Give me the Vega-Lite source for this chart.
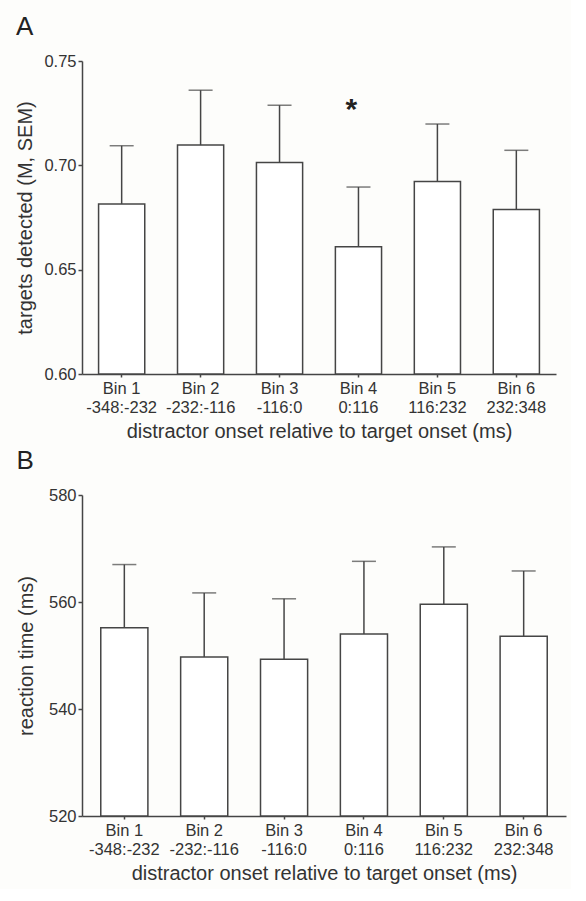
{
  "$schema": "https://vega.github.io/schema/vega-lite/v6.json",
  "background": "#fdfdfb",
  "padding": {"left": 15, "top": 14, "right": 5, "bottom": 5},
  "spacing": 6,
  "config": {
    "font": "Liberation Sans",
    "view": {"stroke": null},
    "axis": {
      "labelFont": "Liberation Sans",
      "titleFont": "Liberation Sans",
      "labelFontSize": 16.5,
      "titleFontSize": 20,
      "titleFontWeight": "normal",
      "labelColor": "#333333",
      "titleColor": "#333333",
      "domainColor": "#454545",
      "domainWidth": 1.5,
      "tickColor": "#454545",
      "tickWidth": 1.5,
      "grid": false
    },
    "title": {"font": "Liberation Sans", "fontSize": 26, "fontWeight": "normal", "color": "#222222", "anchor": "start", "frame": "bounds"}
  },
  "datasets": {
    "acc": [
      {"bin": "Bin 1|-348:-232", "mean": 0.6815, "upper": 0.7094, "sig": ""},
      {"bin": "Bin 2|-232:-116", "mean": 0.7097, "upper": 0.7360, "sig": ""},
      {"bin": "Bin 3|-116:0", "mean": 0.7014, "upper": 0.7288, "sig": ""},
      {"bin": "Bin 4|0:116", "mean": 0.6610, "upper": 0.6896, "sig": "*"},
      {"bin": "Bin 5|116:232", "mean": 0.6922, "upper": 0.7198, "sig": ""},
      {"bin": "Bin 6|232:348", "mean": 0.6788, "upper": 0.7072, "sig": ""}
    ],
    "rt": [
      {"bin": "Bin 1|-348:-232", "mean": 555.2, "upper": 567.0},
      {"bin": "Bin 2|-232:-116", "mean": 549.7, "upper": 561.7},
      {"bin": "Bin 3|-116:0", "mean": 549.3, "upper": 560.6},
      {"bin": "Bin 4|0:116", "mean": 554.0, "upper": 567.6},
      {"bin": "Bin 5|116:232", "mean": 559.6, "upper": 570.3},
      {"bin": "Bin 6|232:348", "mean": 553.6, "upper": 565.8}
    ]
  },
  "vconcat": [
    {
      "title": {"text": "A", "offset": 13},
      "width": 474,
      "height": 313,
      "data": {"name": "acc"},
      "encoding": {
        "x": {
          "field": "bin", "type": "nominal", "sort": null,
          "scale": {"paddingInner": 0.415, "paddingOuter": 0.21},
          "axis": {"title": "distractor onset relative to target onset (ms)", "labelAngle": 0, "labelExpr": "split(datum.value, '|')", "labelLineHeight": 19, "tickSize": 3, "labelPadding": 3, "titlePadding": 6}
        }
      },
      "layer": [
        {
          "mark": {"type": "bar", "fill": "#ffffff", "stroke": "#454545", "strokeWidth": 1.5},
          "encoding": {
            "y": {
              "field": "mean", "type": "quantitative",
              "scale": {"domain": [0.6, 0.75], "nice": false, "zero": false},
              "axis": {"title": "targets detected (M, SEM)", "values": [0.6, 0.65, 0.7, 0.75], "format": ".2f", "tickSize": 4, "labelPadding": 2, "titlePadding": 8}
            },
            "y2": {"datum": 0.6}
          }
        },
        {
          "mark": {"type": "rule", "color": "#454545", "strokeWidth": 1.5},
          "encoding": {"y": {"field": "mean", "type": "quantitative"}, "y2": {"field": "upper"}}
        },
        {
          "mark": {"type": "tick", "color": "#454545", "thickness": 1.5, "size": 24},
          "encoding": {"y": {"field": "upper", "type": "quantitative"}}
        },
        {
          "transform": [{"filter": "datum.sig == '*'"}],
          "mark": {"type": "text", "fontSize": 30, "fontWeight": "bold", "color": "#222222", "dx": -7, "dy": 4, "baseline": "middle"},
          "encoding": {"y": {"datum": 0.7285}, "text": {"field": "sig"}}
        }
      ]
    },
    {
      "title": {"text": "B", "offset": 13},
      "width": 484,
      "height": 321,
      "data": {"name": "rt"},
      "encoding": {
        "x": {
          "field": "bin", "type": "nominal", "sort": null,
          "scale": {"paddingInner": 0.41, "paddingOuter": 0.235},
          "axis": {"title": "distractor onset relative to target onset (ms)", "labelAngle": 0, "labelExpr": "split(datum.value, '|')", "labelLineHeight": 19, "tickSize": 3, "labelPadding": 3, "titlePadding": 6}
        }
      },
      "layer": [
        {
          "mark": {"type": "bar", "fill": "#ffffff", "stroke": "#454545", "strokeWidth": 1.5},
          "encoding": {
            "y": {
              "field": "mean", "type": "quantitative",
              "scale": {"domain": [520, 580], "nice": false, "zero": false},
              "axis": {"title": "reaction time (ms)", "values": [520, 540, 560, 580], "tickSize": 4, "labelPadding": 2, "titlePadding": 12}
            },
            "y2": {"datum": 520}
          }
        },
        {
          "mark": {"type": "rule", "color": "#454545", "strokeWidth": 1.5},
          "encoding": {"y": {"field": "mean", "type": "quantitative"}, "y2": {"field": "upper"}}
        },
        {
          "mark": {"type": "tick", "color": "#454545", "thickness": 1.5, "size": 24},
          "encoding": {"y": {"field": "upper", "type": "quantitative"}}
        }
      ]
    }
  ]
}
